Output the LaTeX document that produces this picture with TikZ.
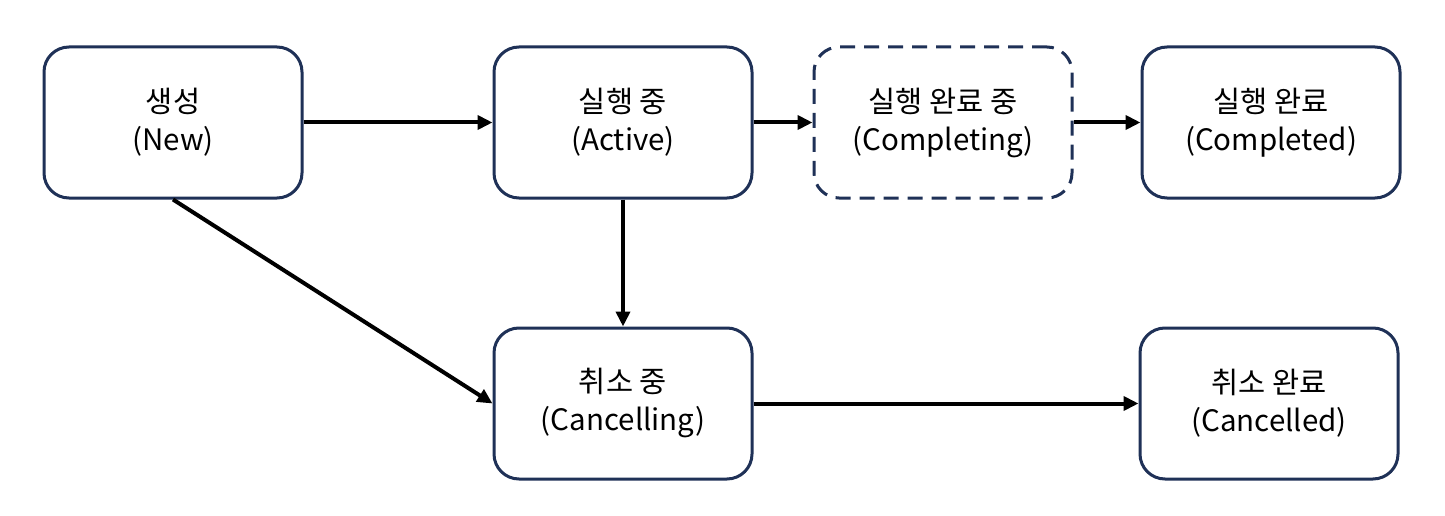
\documentclass[tikz,border=0pt]{standalone}
\usepackage{fontspec}
\setmainfont{Noto Sans CJK KR}
\usetikzlibrary{arrows.meta}
\definecolor{navy}{HTML}{1F3157}
\begin{document}
\begin{tikzpicture}[x=1pt,y=-1pt,
  state/.style={draw=navy,line width=3pt,rounded corners=25pt,minimum width=258pt,minimum height=151pt,align=center,fill=white,font=\fontsize{29.5}{38}\selectfont,inner sep=0pt},
  dashedstate/.style={state,dash pattern=on 15pt off 9pt},
  conn/.style={line width=4pt,-{Triangle[length=15pt,width=14pt]}}]
\useasboundingbox[fill=white] (0,0) rectangle (1445,516);
\node[state] (new) at (173,122.5) {생성\\(New)};
\node[state] (act) at (623,122.5) {실행 중\\(Active)};
\node[dashedstate] (cing) at (943,122.5) {실행 완료 중\\(Completing)};
\node[state] (cd) at (1271,122.5) {실행 완료\\(Completed)};
\node[state] (can) at (623,403.5) {취소 중\\(Cancelling)};
\node[state] (cand) at (1269,403.5) {취소 완료\\(Cancelled)};
\draw[conn] (new.east) -- (act.west);
\draw[conn] (act.east) -- (cing.west);
\draw[conn] (cing.east) -- (cd.west);
\draw[conn] (act.south) -- (can.north);
\draw[conn] (new.south) -- (can.west);
\draw[conn] (can.east) -- (cand.west);
\end{tikzpicture}
\end{document}
